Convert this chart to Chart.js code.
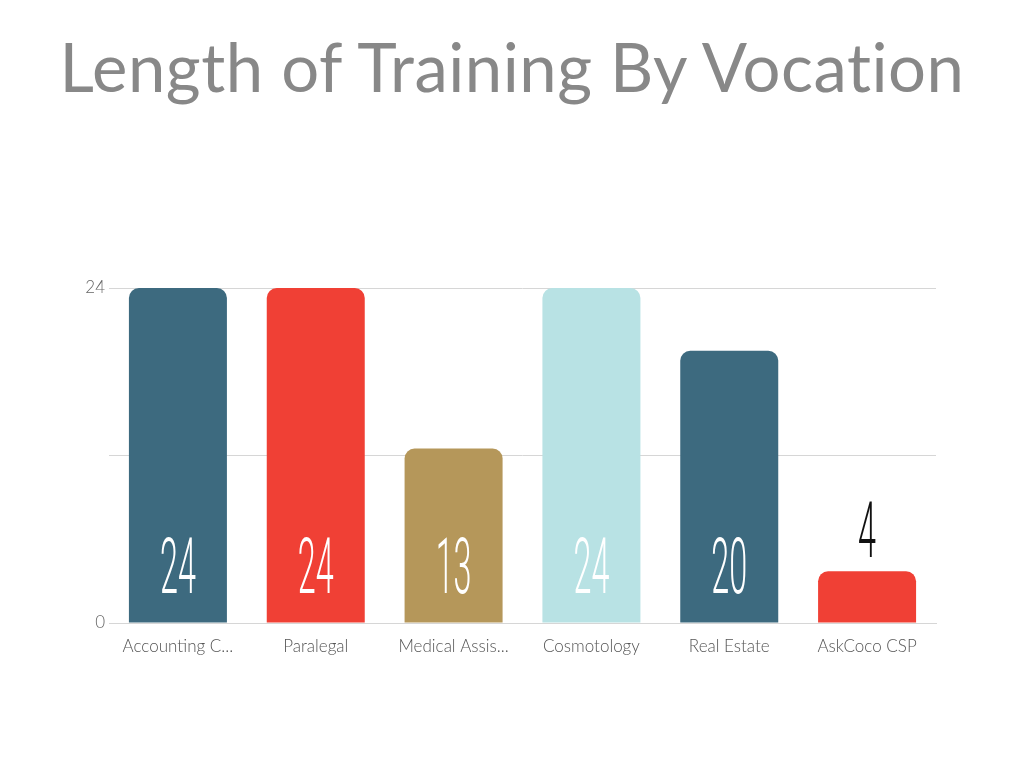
<!DOCTYPE html>
<html>
<head>
<meta charset="utf-8">
<script src="https://cdn.jsdelivr.net/npm/chart.js@4.4.1/dist/chart.umd.min.js"></script>
<style>
  html, body { margin: 0; padding: 0; background: #ffffff; }
  #wrap { position: relative; width: 1024px; height: 768px; overflow: hidden; }
  h1 { position: absolute; left: 0; top: 16px; width: 1024px; margin: 0; text-align: center;
       font-family: Lato, "Open Sans", sans-serif; font-weight: 400; font-size: 67px; color: #888888;
       letter-spacing: 0.5px; line-height: 100px; }
  canvas { position: absolute; left: 0; top: 0; }
</style>
</head>
<body>
<div id="wrap">
  <h1 id="title">Length of Training By Vocation</h1>
  <canvas id="c" width="1024" height="768"></canvas>
</div>
<script>
const categories = ["Accounting C...", "Paralegal", "Medical Assis...", "Cosmotology", "Real Estate", "AskCoco CSP"];
const months = [24, 24, 12.5, 24, 19.5, 3.7];
const barColors = ["#3d6a7f", "#f04035", "#b5975a", "#b8e2e4", "#3d6a7f", "#f04035"];
const yTickLabels = { 0: "0", 24: "24" };

const valueLabels = {
  id: 'valueLabels',
  afterDatasetsDraw(chart) {
    const ctx = chart.ctx;
    const meta = chart.getDatasetMeta(0);
    const yScale = chart.scales.y;
    const base = yScale.getPixelForValue(0);
    meta.data.forEach((bar, i) => {
      const v = months[i];
      const txt = String(Math.round(v));
      const inside = v >= 8;
      ctx.save();
      ctx.font = '300 77px Roboto';
      ctx.textAlign = 'center';
      ctx.textBaseline = 'alphabetic';
      ctx.fillStyle = inside ? '#ffffff' : '#111111';
      const y = inside ? base - 30 : bar.y - 14;
      ctx.translate(bar.x, y);
      ctx.scale(0.42, 1);
      ctx.fillText(txt, 0, 0);
      ctx.restore();
    });
  }
};

new Chart(document.getElementById('c'), {
  type: 'bar',
  data: {
    labels: categories,
    datasets: [{
      data: months,
      backgroundColor: barColors,
      borderRadius: { topLeft: 10, topRight: 10, bottomLeft: 0, bottomRight: 0 },
      borderSkipped: 'start',
      barPercentage: 0.711,
      categoryPercentage: 1.0
    }]
  },
  options: {
    responsive: false,
    animation: false,
    devicePixelRatio: 1,
    layout: { padding: { top: 288, left: 0, right: 88, bottom: 100 } },
    plugins: { legend: { display: false }, tooltip: { enabled: false }, title: { display: false } },
    scales: {
      x: {
        grid: { display: false, drawTicks: false },
        border: { display: true, color: '#d6d6d6', width: 1 },
        ticks: { color: '#555555', font: { family: 'Lato', size: 17, weight: 300 }, padding: 13, maxRotation: 0, autoSkip: false },
        afterFit(s) { s.height = 45; }
      },
      y: {
        min: 0, max: 24,
        grid: { color: '#d6d6d6', drawTicks: false, lineWidth: 1 },
        border: { display: false },
        ticks: {
          stepSize: 12,
          color: '#666666',
          font: { family: 'Lato', size: 17, weight: 300 },
          padding: 4,
          callback: (v) => (yTickLabels[v] !== undefined ? yTickLabels[v] : '')
        },
        afterFit(s) { s.width = 109; }
      }
    }
  },
  plugins: [valueLabels]
});
</script>
</body>
</html>
